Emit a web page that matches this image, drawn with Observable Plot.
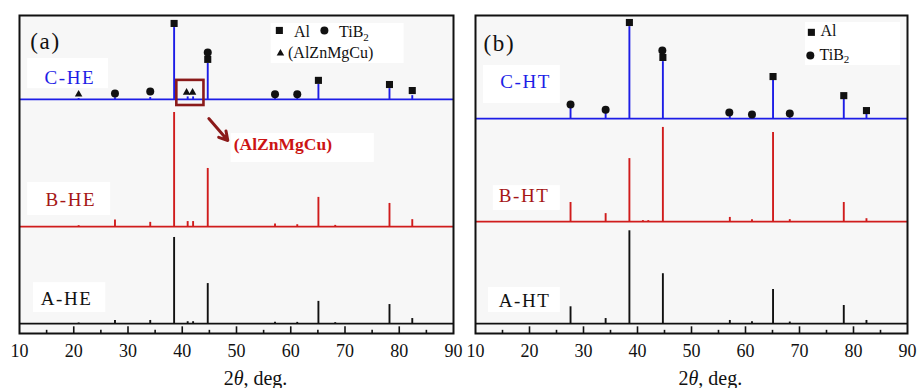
<!DOCTYPE html>
<html><head><meta charset="utf-8">
<script src="https://cdn.jsdelivr.net/npm/d3@7"></script>
<script src="https://cdn.jsdelivr.net/npm/@observablehq/plot@0.6"></script>
<style>
body{margin:0;background:#fff;}
#wrap{position:relative;width:917px;height:388px;overflow:hidden;background:#fff;}
#wrap svg{position:absolute;top:0;overflow:visible;}
#wrap svg, #wrap svg text{font-family:"Liberation Serif","Times New Roman",serif !important;}
</style>
</head><body><div id="wrap"></div>
<script>
// ---- data (2θ in degrees, intensity in arbitrary units) ----
const peakPositions = [20.9, 27.6, 34.1, 38.5, 41.0, 42.0, 44.7, 57.1, 61.2, 65.1, 68.2, 78.2, 82.4];
const seriesA = ["C-HE", "B-HE", "A-HE"];
const seriesB = ["C-HT", "B-HT", "A-HT"];
const offsetsA = [73.6, 33.6, 3.1];
const offsetsB = [67.6, 35.2, 3.1];
const heightsCHE = [0.3, 0.5, 0.6, 22.6, 0.8, 0.8, 11.3, 0.3, 0.3, 4.7, 0.0, 3.4, 1.2];
const heightsBHE = [0.3, 2.1, 1.35, 35.9, 1.6, 1.6, 18.3, 0.8, 0.6, 9.2, 0.4, 7.3, 2.2];
const heightsAHE = [0.2, 1.0, 1.0, 27.1, 0.6, 0.6, 12.6, 0.4, 0.4, 7.0, 0.3, 6.0, 1.6];
const heightsCHT = [0.0, 3.4, 1.9, 28.9, 0.0, 0.0, 17.9, 1.2, 0.5, 12.0, 1.0, 6.0, 1.6];
const heightsBHT = [0.0, 6.0, 2.5, 19.8, 0.3, 0.3, 29.6, 1.3, 0.6, 28.0, 0.6, 6.0, 0.9];
const heightsAHT = [0.0, 5.3, 1.6, 29.2, 0.0, 0.0, 15.7, 1.0, 0.6, 10.7, 0.5, 5.7, 1.0];

// phase markers
const alPosA = [38.5, 44.7, 65.1, 78.2, 82.4];
const alLevelA = [97.5, 86.2, 79.6, 78.3, 76.4];
const tib2PosA = [27.6, 34.1, 44.7, 57.1, 61.2];
const tib2LevelA = [75.5, 76.1, 88.4, 75.2, 75.2];
const zmcPosA = [20.9, 40.8, 41.9];
const zmcLevelA = [75.2, 75.8, 75.8];
const alPosB = [38.5, 44.7, 65.1, 78.2, 82.4];
const alLevelB = [97.8, 86.8, 80.8, 74.8, 70.1];
const tib2PosB = [27.6, 34.1, 44.6, 57.0, 61.2, 68.2];
const tib2LevelB = [72.0, 70.4, 89.0, 69.5, 68.9, 69.2];

const xTicks = [10, 20, 30, 40, 50, 60, 70, 80, 90];
const xMinorTicks = [15, 25, 35, 45, 55, 65, 75, 85];
const axisTitle = "2θ, deg.";

// ---- styles / layout ----
const colors = ["#1d1de6", "#d01c1c", "#111111"];
const labelColors = ["#1d1de6", "#a51616", "#111111"];
const FONT = "Liberation Serif";

function rowsFor(heights, base) {
  return peakPositions.map((x, i) => ({x, y1: base, y2: base + heights[i]})).filter(d => d.y2 > d.y1);
}
function pts(xs, ys) { return xs.map((x, i) => ({x, y: ys[i]})); }

function panel(cfg) {
  const marks = [
    Plot.frame({fill: "#f7f7f7", stroke: null}),
    Plot.rect(cfg.boxes, {x1: "x1", x2: "x2", y1: "y1", y2: "y2", fill: "white"})
  ];
  cfg.series.forEach((name, i) => {
    marks.push(Plot.ruleY([cfg.offsets[i]], {x1: 10, x2: 90, stroke: colors[i], strokeWidth: 1.8}));
    marks.push(Plot.ruleX(rowsFor(cfg.heights[i], cfg.offsets[i]), {x: "x", y1: "y1", y2: "y2", stroke: colors[i], strokeWidth: 1.9}));
  });
  marks.push(
    Plot.ruleX(xTicks.slice(1, -1), {x: d => d, y1: 0, y2: 2.1, stroke: "#111", strokeWidth: 1.6}),
    Plot.ruleX(xMinorTicks, {x: d => d, y1: 0, y2: 1.0, stroke: "#111", strokeWidth: 1.6}),
    ...cfg.extra,
    Plot.dot(cfg.squares, {x: "x", y: "y", symbol: "square", r: 4, fill: "#111"}),
    Plot.dot(cfg.circles, {x: "x", y: "y", symbol: "circle", r: 4, fill: "#111"}),
    Plot.dot(cfg.triangles || [], {x: "x", y: "y", symbol: "triangle", r: 2.8, fill: "#111"}),
    Plot.text(cfg.labels, {x: "x", y: "y", text: "text", fill: "fill", fontSize: "size", fontFamily: FONT, textAnchor: "start", lineAnchor: "middle"}),
    Plot.text([axisTitle], {x: 53.5, y: -14.2, text: d => d, fontSize: 20, fontFamily: FONT, fill: "#111", textAnchor: "middle", lineAnchor: "middle"}),
    Plot.axisX({ticks: xTicks, tickSize: 0, tickPadding: 11, fontSize: 18, fontFamily: FONT, tickFormat: d => d, label: null, fill: "#111"}),
    Plot.frame({stroke: "#111", strokeWidth: 2})
  );
  return Plot.plot({
    width: cfg.width, height: 388,
    marginLeft: cfg.ml, marginRight: cfg.mr, marginTop: 15, marginBottom: 55,
    x: {domain: [10, 90], label: null},
    y: {domain: [0, 100], axis: null},
    style: {fontFamily: FONT, overflow: "visible", background: "transparent", color: "#111"},
    marks
  });
}

const labA = [
  {x: 12.0, y: 91.8, text: "(a)", fill: "#111", size: 23},
  {x: 14.6, y: 80.5, text: seriesA[0], fill: labelColors[0], size: 19},
  {x: 14.8, y: 41.9, text: seriesA[1], fill: labelColors[1], size: 19},
  {x: 13.9, y: 11.0, text: seriesA[2], fill: labelColors[2], size: 19},
  {x: 60.6, y: 94.7, text: "Al", fill: "#111", size: 16},
  {x: 68.9, y: 94.7, text: "TiB2", fill: "#111", size: 16},
  {x: 59.5, y: 88.4, text: "(AlZnMgCu)", fill: "#111", size: 16}
];
const labB = [
  {x: 11.5, y: 91.2, text: "(b)", fill: "#111", size: 23},
  {x: 14.6, y: 79.2, text: seriesB[0], fill: labelColors[0], size: 19},
  {x: 14.3, y: 43.4, text: seriesB[1], fill: labelColors[1], size: 19},
  {x: 14.3, y: 10.1, text: seriesB[2], fill: labelColors[2], size: 19},
  {x: 73.9, y: 95.3, text: "Al", fill: "#111", size: 16},
  {x: 73.7, y: 87.7, text: "TiB2", fill: "#111", size: 16}
];

const chartA = panel({
  width: 460, ml: 19, mr: 7,
  series: seriesA, offsets: offsetsA, heights: [heightsCHE, heightsBHE, heightsAHE],
  squares: pts(alPosA, alLevelA).concat([{x: 57.9, y: 95.3}]),
  circles: pts(tib2PosA, tib2LevelA).concat([{x: 66.2, y: 95.3}]),
  triangles: pts(zmcPosA, zmcLevelA).concat([{x: 58.1, y: 88.1}]),
  labels: labA,
  boxes: [
    {x1: 11.5, x2: 26.4, y1: 77.0, y2: 86.5},
    {x1: 11.5, x2: 26.8, y1: 37.1, y2: 47.5},
    {x1: 12.6, x2: 25.9, y1: 6.6, y2: 16.0},
    {x1: 49.0, x2: 75.4, y1: 53.8, y2: 62.9},
    {x1: 56.4, x2: 80.9, y1: 84.9, y2: 97.5}
  ],
  extra: [
    Plot.rect([{x1: 39.0, x2: 44.0, y1: 71.7, y2: 79.6}], {x1: "x1", x2: "x2", y1: "y1", y2: "y2", fill: "none", stroke: "#8b1a1a", strokeWidth: 2.6}),
    Plot.arrow([{x1: 44.9, y1: 67.6, x2: 48.4, y2: 60.7}], {x1: "x1", y1: "y1", x2: "x2", y2: "y2", stroke: "#8b1a1a", strokeWidth: 3, headLength: 10}),
    Plot.text(["(AlZnMgCu)"], {x: 49.5, y: 59.6, text: d => d, fill: "#cc1414", fontSize: 17.5, fontWeight: "bold", fontFamily: FONT, textAnchor: "start", lineAnchor: "middle"})
  ]
});
const chartB = panel({
  width: 457, ml: 15, mr: 10,
  series: seriesB, offsets: offsetsB, heights: [heightsCHT, heightsBHT, heightsAHT],
  squares: pts(alPosB, alLevelB).concat([{x: 72.2, y: 94.7}]),
  circles: pts(tib2PosB, tib2LevelB).concat([{x: 72.0, y: 87.4}]),
  triangles: [],
  labels: labB,
  boxes: [
    {x1: 11.5, x2: 25.7, y1: 72.3, y2: 84.3},
    {x1: 13.3, x2: 25.7, y1: 38.7, y2: 46.5},
    {x1: 12.4, x2: 25.7, y1: 6.6, y2: 14.5},
    {x1: 71.1, x2: 88.7, y1: 84.3, y2: 97.8}
  ],
  extra: []
});

const wrap = document.getElementById("wrap");
chartA.style.left = "0px";
chartB.style.left = "460px";
wrap.appendChild(chartA);
wrap.appendChild(chartB);

// text refinements: subscripts, italic theta, label spacing
const sampleNames = new Set([...seriesA, ...seriesB, "(a)", "(b)"]);
d3.selectAll("#wrap text").each(function() {
  const t = this.textContent;
  if (t === "TiB2") {
    this.textContent = "";
    d3.select(this).append("tspan").text("TiB");
    d3.select(this).append("tspan").attr("dy", "0.3em").attr("font-size", "11").text("2");
  } else if (t === axisTitle) {
    this.textContent = "";
    d3.select(this).append("tspan").text("2");
    d3.select(this).append("tspan").attr("font-style", "italic").text("θ");
    d3.select(this).append("tspan").text(", deg.");
  } else if (sampleNames.has(t)) {
    this.setAttribute("letter-spacing", "1.6");
  }
});
</script></body></html>
